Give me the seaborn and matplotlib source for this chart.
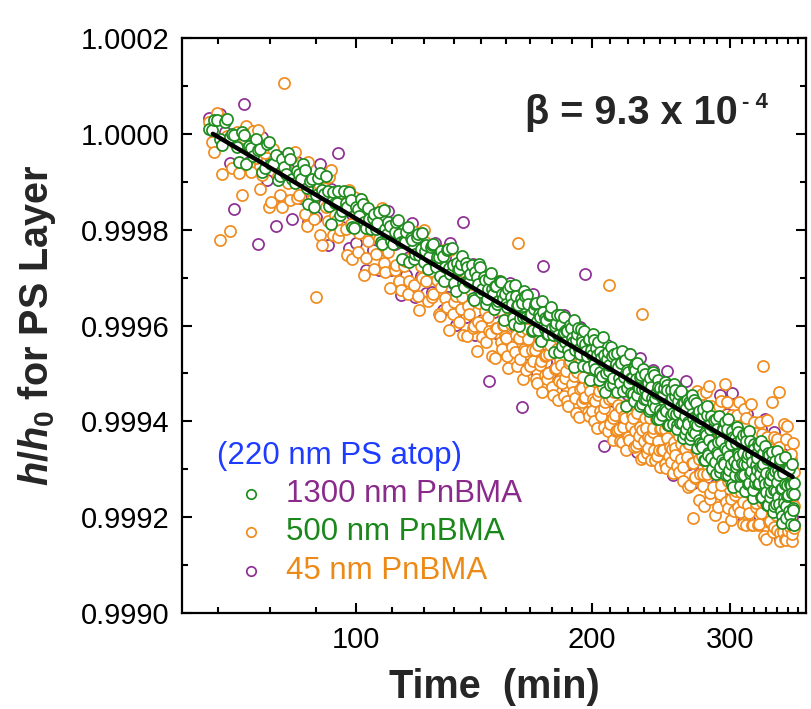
import numpy as np
import pandas as pd
import matplotlib
matplotlib.use("Agg")
import matplotlib.pyplot as plt
import seaborn as sns
from matplotlib.ticker import FixedLocator, MultipleLocator, FormatStrFormatter, NullFormatter

# ---------------- data ----------------
# readings on the minute and on the half minute (min)
time_min = np.arange(65, 363, 1)
time_half = time_min + 0.5

# (h/h0 - 1) in ppm, 1300 nm PnBMA (green), on the minute
green_1300_ppm = [
    10, 28, -10, 24, -7, -2, -58, -3, -25, -47,
    -34, -79, -21, -63, -45, -88, -69, -39, -95, -78,
    -94, -75, -147, -95, -128, -81, -125, -119, -188, -144,
    -120, -161, -144, -122, -195, -152, -172, -147, -196, -177,
    -175, -198, -164, -229, -199, -185, -224, -205, -180, -225,
    -223, -204, -268, -221, -250, -209, -240, -267, -233, -257,
    -232, -270, -257, -296, -255, -277, -241, -292, -273, -327,
    -285, -272, -312, -270, -308, -292, -343, -288, -314, -278,
    -323, -306, -344, -302, -324, -366, -317, -348, -310, -345,
    -335, -362, -317, -356, -396, -338, -357, -385, -353, -329,
    -383, -356, -375, -410, -355, -390, -376, -432, -371, -408,
    -389, -417, -377, -406, -456, -395, -419, -379, -442, -413,
    -434, -411, -461, -406, -434, -487, -431, -405, -459, -426,
    -485, -439, -464, -430, -513, -461, -431, -491, -461, -514,
    -455, -505, -478, -538, -469, -494, -525, -463, -509, -486,
    -539, -487, -521, -478, -537, -507, -567, -492, -520, -540,
    -510, -557, -492, -545, -528, -569, -503, -533, -554, -502,
    -546, -519, -574, -528, -562, -503, -552, -596, -528, -577,
    -547, -587, -531, -574, -525, -607, -560, -587, -551, -606,
    -548, -585, -615, -543, -603, -568, -634, -562, -589, -617,
    -602, -559, -637, -585, -621, -556, -606, -655, -583, -638,
    -599, -648, -589, -680, -624, -587, -666, -638, -605, -676,
    -649, -612, -684, -596, -665, -644, -706, -627, -680, -618,
    -689, -656, -615, -712, -673, -642, -688, -731, -633, -712,
    -645, -690, -622, -673, -714, -637, -687, -666, -711, -626,
    -688, -668, -729, -642, -703, -684, -743, -658, -716, -692,
    -677, -730, -652, -710, -758, -695, -667, -731, -708, -774,
    -667, -728, -757, -709, -682, -790, -744, -704, -773, -727,
    -757, -711, -684, -787, -739, -812, -707, -770, -731, -802,
    -756, -697, -787, -731, -815, -749, -786, -728,
]

# (h/h0 - 1) in ppm, 1300 nm PnBMA (green), on the half minute
green_1300_half_ppm = [
    9, 28, -23, 31, -1, -27, 3, -63, -29, -10,
    -31, -71, -17, -62, -97, -53, -83, -53, -103, -83,
    -63, -113, -98, -153, -93, -117, -87, -151, -121, -145,
    -170, -119, -153, -138, -197, -157, -136, -185, -154, -198,
    -167, -186, -225, -159, -208, -192, -230, -184, -208, -261,
    -225, -194, -217, -261, -215, -253, -206, -245, -283, -236,
    -230, -278, -256, -245, -308, -242, -280, -238, -311, -269,
    -282, -255, -319, -277, -310, -273, -346, -299, -272, -330,
    -298, -355, -323, -291, -334, -317, -355, -307, -335, -388,
    -356, -323, -341, -384, -316, -359, -402, -344, -382, -339,
    -337, -379, -412, -365, -352, -410, -382, -349, -402, -384,
    -417, -379, -361, -419, -401, -379, -456, -398, -420, -383,
    -410, -452, -399, -427, -389, -451, -418, -450, -408, -435,
    -412, -454, -486, -428, -451, -418, -480, -447, -434, -496,
    -468, -425, -462, -499, -456, -483, -445, -522, -459, -481,
    -458, -510, -477, -454, -506, -473, -530, -497, -459, -510,
    -542, -489, -511, -478, -530, -507, -564, -490, -532, -554,
    -521, -578, -509, -551, -498, -570, -541, -513, -595, -531,
    -583, -545, -517, -578, -535, -607, -563, -535, -582, -523,
    -535, -607, -558, -580, -537, -603, -560, -626, -573, -555,
    -606, -563, -629, -546, -592, -624, -561, -607, -579, -645,
    -592, -653, -575, -681, -628, -569, -671, -617, -589, -700,
    -652, -598, -710, -616, -668, -589, -696, -642, -613, -685,
    -601, -713, -659, -595, -702, -648, -620, -736, -682, -634,
    -695, -611, -668, -734, -646, -712, -628, -690, -746, -642,
    -674, -730, -621, -708, -669, -761, -647, -728, -669, -701,
    -647, -728, -695, -641, -757, -689, -720, -651, -747, -678,
    -775, -671, -722, -748, -665, -711, -777, -683, -745, -661,
    -702, -773, -679, -741, -797, -703, -759, -675, -777, -733,
    -754, -700, -796, -733, -689, -780, -751, -817,
]

# (h/h0 - 1) in ppm, 500 nm PnBMA (orange), on the minute
orange_500_ppm = [
    24, -37, -221, 31, -202, -17, -82, -8, -64, 5,
    9, -86, -27, -142, -62, -128, 106, -103, -48, -133,
    -73, -168, -58, -138, -341, -212, -112, -181, -76, -170,
    -215, -139, -198, -118, -262, -167, -206, -145, -259, -188,
    -167, -251, -220, -154, -288, -247, -205, -284, -193, -326,
    -275, -214, -307, -256, -205, -338, -276, -200, -308, -271,
    -340, -263, -306, -380, -248, -342, -305, -243, -376, -339,
    -282, -365, -419, -307, -360, -278, -406, -349, -392, -315,
    -423, -370, -308, -411, -464, -357, -405, -307, -435, -398,
    -421, -463, -386, -444, -361, -419, -227, -469, -412, -449,
    -492, -429, -367, -475, -452, -520, -417, -474, -367, -504,
    -462, -499, -441, -529, -391, -489, -556, -473, -520, -443,
    -510, -557, -479, -422, -539, -506, -583, -480, -533, -560,
    -507, -549, -456, -588, -536, -578, -505, -557, -614, -536,
    -578, -525, -612, -559, -506, -315, -605, -552, -639, -586,
    -618, -565, -642, -534, -611, -588, -660, -567, -639, -610,
    -587, -654, -621, -568, -645, -612, -679, -375, -642, -594,
    -666, -633, -594, -681, -623, -660, -581, -673, -640, -696,
    -613, -660, -577, -688, -635, -607, -673, -555, -657, -708,
    -655, -602, -693, -630, -557, -678, -725, -621, -658, -595,
    -736, -648, -554, -686, -802, -619, -716, -547, -669, -765,
    -642, -543, -710, -776, -593, -689, -641, -527, -749, -670,
    -592, -708, -795, -576, -683, -639, -751, -557, -668, -820,
    -701, -523, -664, -780, -617, -723, -805, -586, -647, -754,
    -605, -696, -778, -559, -671, -747, -638, -815, -716, -592,
    -694, -775, -631, -738, -564, -816, -677, -723, -624, -771,
    -652, -738, -815, -601, -702, -769, -485, -726, -845, -633,
    -765, -651, -807, -703, -560, -751, -820, -683, -795, -636,
    -727, -538, -834, -771, -677, -813, -830, -605, -757, -848,
    -609, -800, -731, -820, -669, -835, -646, -777,
]

# (h/h0 - 1) in ppm, 500 nm PnBMA (orange), on the half minute
orange_500_half_ppm = [
    -16, 43, -83, -4, -71, 3, -127, 17, -79, -50,
    -116, -41, -152, -32, -87, -153, -73, -138, -38, -128,
    -73, -193, -118, -178, -103, -232, -152, -91, -211, -180,
    -200, -144, -253, -188, -132, -247, -176, -295, -224, -163,
    -282, -211, -160, -269, -238, -322, -200, -274, -308, -221,
    -265, -334, -217, -316, -255, -368, -301, -225, -348, -286,
    -335, -258, -376, -320, -243, -362, -410, -303, -351, -274,
    -392, -340, -289, -422, -375, -313, -401, -454, -352, -400,
    -323, -435, -383, -416, -314, -467, -405, -367, -450, -398,
    -426, -488, -396, -354, -456, -484, -427, -384, -512, -454,
    -407, -484, -452, -370, -512, -440, -482, -539, -417, -464,
    -512, -459, -406, -544, -491, -449, -516, -483, -410, -548,
    -495, -567, -474, -522, -439, -551, -498, -590, -473, -530,
    -552, -474, -581, -523, -436, -553, -600, -512, -544, -481,
    -588, -530, -572, -509, -621, -553, -475, -592, -539, -621,
    -528, -615, -572, -644, -516, -593, -565, -632, -494, -610,
    -592, -539, -651, -583, -630, -522, -619, -675, -572, -614,
    -656, -573, -634, -526, -613, -680, -596, -558, -660, -616,
    -578, -660, -617, -698, -605, -537, -653, -685, -572, -643,
    -670, -612, -563, -705, -647, -598, -695, -636, -548, -675,
    -646, -733, -604, -551, -687, -719, -626, -537, -679, -710,
    -582, -673, -735, -641, -538, -709, -621, -762, -569, -675,
    -737, -588, -705, -661, -778, -569, -646, -732, -618, -700,
    -676, -768, -559, -725, -652, -763, -600, -701, -787, -639,
    -745, -586, -683, -789, -721, -632, -768, -575, -706, -817,
    -624, -745, -791, -653, -719, -816, -602, -693, -779, -711,
    -817, -658, -745, -791, -627, -714, -840, -686, -772, -598,
    -745, -811, -657, -783, -710, -831, -632, -768, -705, -826,
    -782, -653, -849, -731, -812, -683, -769, -845, -637, -753,
    -829, -730, -806, -678, -849, -775, -706, -822,
]

# (h/h0 - 1) in ppm, 45 nm PnBMA (purple), on the minute
purple_45_ppm = [
    34, -12, 42, 4, -61, -156, -7, 62, -59, -10,
    -229, -6, -97, -52, -192, -48, -138, -83, -178, -58,
    -133, -73, -183, -108, -173, -62, -147, -231, -116, -205,
    -40, -194, -143, -238, -167, -227, -136, -205, -284, -168,
    -242, -166, -285, -199, -243, -162, -285, -229, -188, -336,
    -215, -294, -257, -186, -340, -248, -296, -230, -333, -251,
    -330, -228, -301, -270, -368, -257, -340, -228, -311, -399,
    -277, -345, -184, -382, -300, -348, -271, -419, -337, -295,
    -388, -315, -418, -516, -304, -372, -415, -342, -400, -328,
    -451, -383, -311, -429, -401, -359, -417, -344, -571, -394,
    -347, -459, -417, -335, -442, -500, -387, -459, -275, -439,
    -477, -389, -501, -439, -376, -534, -461, -418, -505, -378,
    -475, -532, -419, -502, -409, -566, -463, -530, -403, -500,
    -527, -292, -491, -563, -461, -523, -430, -557, -494, -611,
    -448, -540, -652, -509, -441, -578, -530, -477, -604, -551,
    -518, -580, -462, -629, -551, -498, -605, -542, -459, -585,
    -622, -494, -571, -663, -540, -467, -614, -565, -512, -654,
    -501, -603, -549, -636, -493, -585, -676, -533, -625, -576,
    -638, -535, -672, -603, -495, -582, -663, -560, -627, -713,
    -560, -642, -603, -530, -697, -633, -555, -671, -598, -515,
    -631, -688, -574, -651, -728, -554, -676, -617, -544, -710,
    -632, -543, -695, -621, -573, -674, -716, -592, -739, -655,
    -572, -693, -640, -731, -593, -674, -546, -722, -663, -615,
    -691, -763, -584, -660, -727, -618, -710, -541, -687, -759,
    -615, -701, -643, -749, -586, -687, -733, -640, -804, -677,
    -584, -750, -701, -643, -779, -726, -622, -693, -754, -661,
    -722, -638, -795, -686, -617, -754, -710, -596, -777, -823,
    -670, -751, -792, -648, -725, -776, -622, -713, -825, -751,
    -647, -728, -845, -681, -792, -763, -669, -820, -717, -783,
    -824, -685, -761, -843, -709, -800, -756, -817,
]

# fitted line end points
fit_time = [65.7, 360.6]
fit_h = [1.00000, 0.999284]

series_names = ["45 nm PnBMA", "500 nm PnBMA", "1300 nm PnBMA"]
legend_order = ["1300 nm PnBMA", "500 nm PnBMA", "45 nm PnBMA"]
legend_title = "(220 nm PS atop)"
beta_text = "β = 9.3 x 10"
beta_exp = "- 4"

x_major = [100, 200, 300]
x_minor = [100 * k / 9 for k in range(6, 34) if k % 9 != 0]

# ---------------- style ----------------
GREEN = "#1f8c1f"
ORANGE = "#f08c1e"
PURPLE = "#8e2f93"
GREEN_T = "#1a871a"
ORANGE_T = "#ec8a18"
PURPLE_T = "#8a2a8a"
BLUE = "#1e3cff"

sns.set_theme(style="ticks")
plt.rcParams["font.family"] = ["Liberation Sans", "DejaVu Sans"]
plt.rcParams["mathtext.fontset"] = "custom"
plt.rcParams["mathtext.rm"] = "Liberation Sans:bold"
plt.rcParams["mathtext.bf"] = "Liberation Sans:bold"
plt.rcParams["mathtext.it"] = "Liberation Sans:italic:bold"

for arr in (green_1300_ppm, green_1300_half_ppm, orange_500_ppm,
            orange_500_half_ppm, purple_45_ppm):
    assert len(arr) == len(time_min), len(arr)

fig = plt.figure(figsize=(8.12, 7.09), dpi=100)
ax = fig.add_axes([0.2241, 0.1354, 0.7685, 0.811])
ax.set_xscale("log")

data_map = {
    "45 nm PnBMA": ([time_min], [purple_45_ppm], PURPLE),
    "500 nm PnBMA": ([time_min, time_half], [orange_500_ppm, orange_500_half_ppm], ORANGE),
    "1300 nm PnBMA": ([time_min, time_half], [green_1300_ppm, green_1300_half_ppm], GREEN),
}
handles = {}
for name in series_names:
    times, vals, col = data_map[name]
    df = pd.DataFrame({
        "Time": np.concatenate(times),
        "h": 1.0 + np.concatenate([np.asarray(v, dtype=float) for v in vals]) * 1e-6,
    }).sort_values("Time")
    sns.scatterplot(data=df, x="Time", y="h", ax=ax, s=64, marker="o",
                    facecolor="white", edgecolor=col, linewidth=1.25,
                    zorder=2, legend=False)
    handles[name] = ax.collections[-1]

sns.lineplot(x=fit_time, y=fit_h, ax=ax, color="black", linewidth=3.2, zorder=3)

ax.set_xlim(60, 375)
ax.set_ylim(0.9990, 1.0002)
ax.xaxis.set_major_locator(FixedLocator(x_major))
ax.xaxis.set_minor_locator(FixedLocator(x_minor))
ax.xaxis.set_major_formatter(FormatStrFormatter("%d"))
ax.xaxis.set_minor_formatter(NullFormatter())
ax.yaxis.set_major_locator(MultipleLocator(0.0002))
ax.yaxis.set_minor_locator(MultipleLocator(0.0001))
ax.yaxis.set_major_formatter(FormatStrFormatter("%.4f"))
ax.tick_params(which="both", direction="in", top=True, right=True,
               width=1.5, colors="black", labelsize=21)
ax.tick_params(which="major", length=7, pad=9)
ax.tick_params(which="minor", length=4)
for sp in ax.spines.values():
    sp.set_visible(True)
    sp.set_linewidth(1.6)
    sp.set_color("black")

ax.set_xlabel("Time  (min)", fontsize=28.5, fontweight="bold", labelpad=10.5)
ax.set_ylabel(r"$\mathit{h/h}_{0}$ for PS Layer", fontsize=28.5,
              fontweight="bold", labelpad=16)

bt = ax.text(0.5497, 0.869, beta_text, transform=ax.transAxes, fontsize=28.5,
             fontweight="bold", ha="left", va="center")
ax.annotate(beta_exp, xy=(1.0, 0.78), xycoords=bt, xytext=(3, 0),
            textcoords="offset points", fontsize=16, fontweight="bold",
            ha="left", va="center")

leg = ax.legend(handles=[handles[n] for n in legend_order], labels=legend_order,
                labelcolor=[PURPLE_T, GREEN_T, ORANGE_T], title=legend_title,
                title_fontsize=22.5, fontsize=22.5, frameon=False,
                loc="upper left", bbox_to_anchor=(0.056, 0.30),
                borderpad=0, borderaxespad=0, handlelength=2.2,
                handletextpad=0.0, labelspacing=0.27, alignment="left",
                markerscale=0.85)
leg.get_title().set_color(BLUE)

fig.savefig("out.png", dpi=100)
